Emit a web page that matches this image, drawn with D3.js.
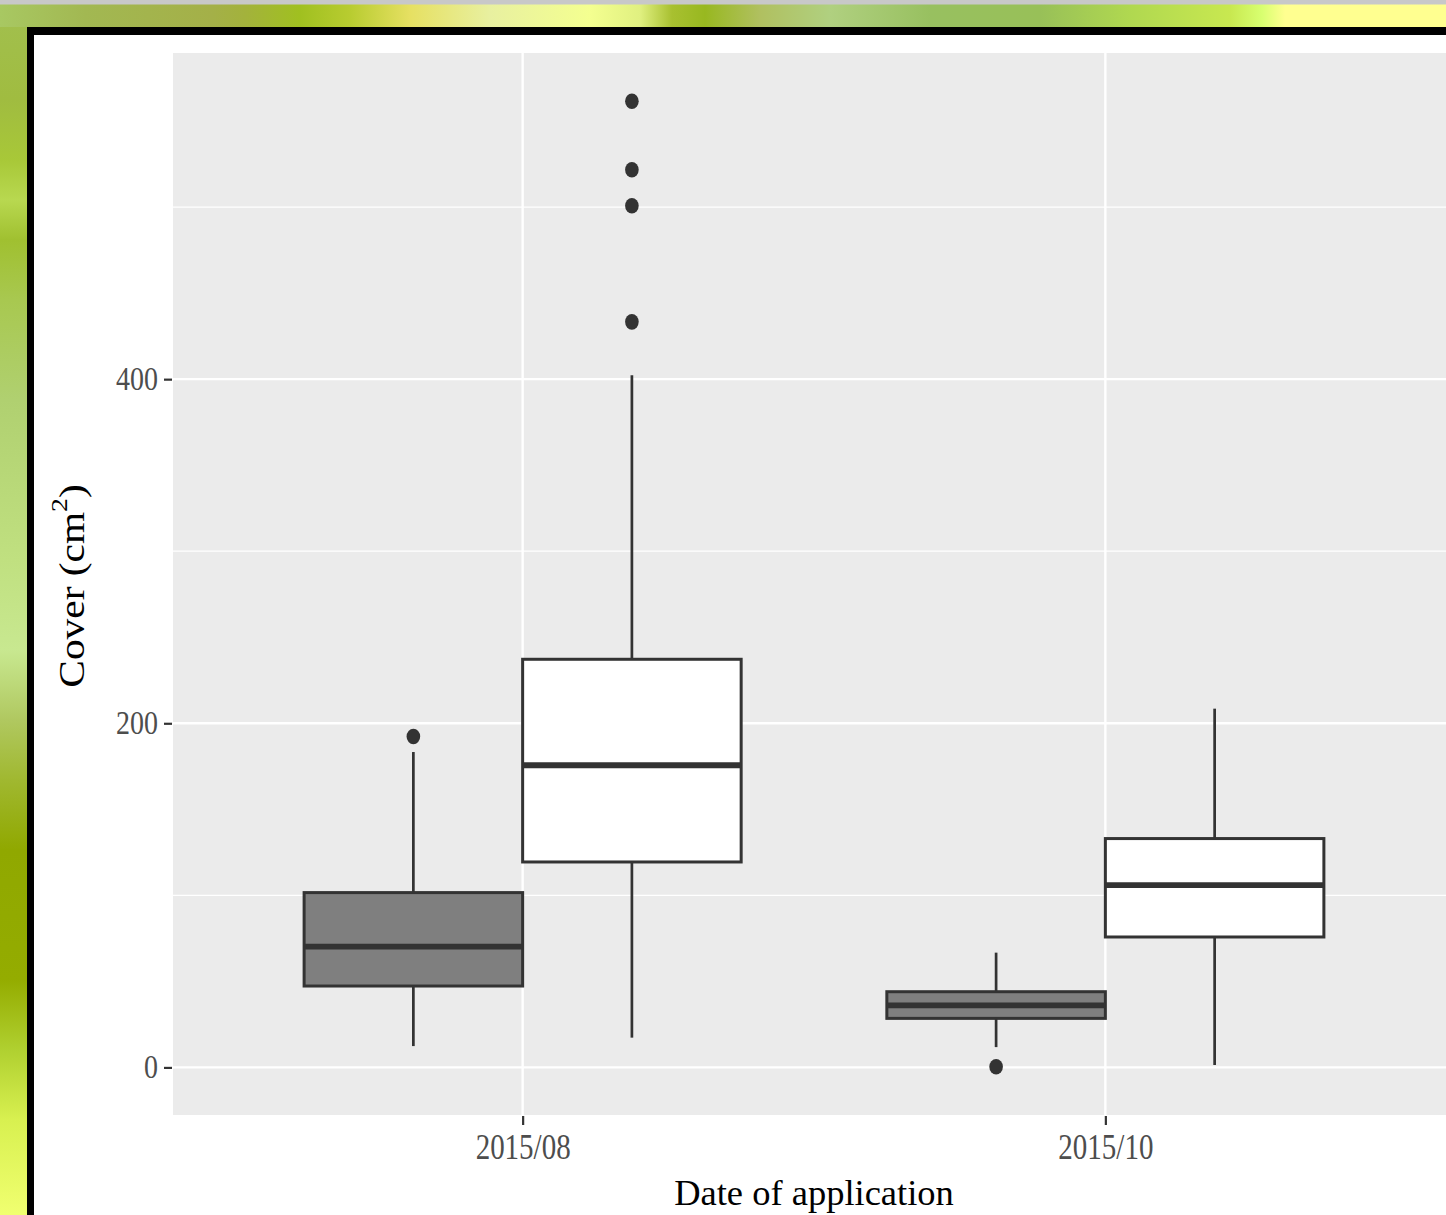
<!DOCTYPE html>
<html>
<head>
<meta charset="utf-8">
<script src="https://cdn.jsdelivr.net/npm/d3@7"></script>
<style>
  html, body { margin: 0; padding: 0; background: #fff; overflow: hidden; }
  svg { display: block; }
</style>
</head>
<body>
<script>
// Application dates on the x axis
const dates = ["2015/08", "2015/10"];
// Two treatment groups, dodged side by side within each date
const groupKeys = ["g1", "g2"];

// Boxplot statistics per date (cm²) – group 1 (grey boxes)
const g1Low  = [12.4, 11.8];
const g1Q1   = [47.3, 28.5];
const g1Med  = [70.2, 36.0];
const g1Q3   = [101.6, 44.0];
const g1High = [183.3, 66.7];
const g1Out  = [[192.3], [0.4]];

// Boxplot statistics per date (cm²) – group 2 (white boxes)
const g2Low  = [17.3, 1.4];
const g2Q1   = [119.4, 75.8];
const g2Med  = [175.6, 106.0];
const g2Q3   = [237.2, 133.0];
const g2High = [402.3, 208.5];
const g2Out  = [[433.3, 500.8, 521.7, 561.5], []];

// Axis ticks
const yMajor = [0, 200, 400];
const yMinor = [100, 300, 500];

const W = 1446, H = 1215;
const panel = { left: 173, right: 1455, top: 53, bottom: 1115 };

const stats = [
  { low: g1Low, q1: g1Q1, med: g1Med, q3: g1Q3, high: g1High, out: g1Out },
  { low: g2Low, q1: g2Q1, med: g2Med, q3: g2Q3, high: g2High, out: g2Out }
];
const boxes = [];
dates.forEach((d, i) => {
  groupKeys.forEach((g, j) => {
    const s = stats[j];
    boxes.push({ date: d, group: g, low: s.low[i], q1: s.q1[i], med: s.med[i],
                 q3: s.q3[i], high: s.high[i], out: s.out[i] });
  });
});

const fills = { g1: "#7f7f7f", g2: "#ffffff" };

// y domain: full data range plus 5% on each side
const allVals = boxes.flatMap(b => [b.low, b.high, ...b.out]);
const [vmin, vmax] = d3.extent(allVals);
const pad = (vmax - vmin) * 0.05;
const y = d3.scaleLinear().domain([vmin - pad, vmax + pad]).range([panel.bottom, panel.top]);

const x = d3.scalePoint().domain(dates).range([panel.left, panel.right]).padding(0.6);
const step = x.step();
const dodge = d3.scaleBand().domain(groupKeys).range([-0.375 * step, 0.375 * step]).padding(0);

const svg = d3.select("body").append("svg").attr("width", W).attr("height", H);
const defs = svg.append("defs");

// Decorative backdrop: green banner across the top and down the left side
const topStops = [
  [0, "#a8c862"], [85, "#a2b852"], [212, "#a4b048"], [245, "#a3b23c"], [300, "#a0c020"],
  [350, "#b8cc30"], [410, "#e6e062"], [490, "#e8f0a0"], [590, "#f4ff90"], [640, "#e0f080"],
  [672, "#a8c030"], [705, "#98b820"], [760, "#b0c060"], [830, "#b0d080"], [930, "#98c060"],
  [1040, "#98c058"], [1130, "#b0d850"], [1230, "#c8e850"], [1262, "#d8ff70"], [1285, "#ffff90"], [1446, "#ffff90"]
];
const leftStops = [
  [0, "#a2c050"], [100, "#a0bc40"], [160, "#a8c838"], [200, "#b8d850"], [240, "#a0c030"],
  [300, "#a8c850"], [400, "#b0d070"], [560, "#c0e080"], [650, "#c8e890"], [720, "#b0c860"],
  [780, "#a0b830"], [850, "#90a800"], [980, "#94ac00"], [1050, "#b0d030"], [1120, "#d8f050"], [1215, "#f0ff70"]
];
const gTop = defs.append("linearGradient").attr("id", "bandTop")
  .attr("gradientUnits", "userSpaceOnUse").attr("x1", 0).attr("x2", W).attr("y1", 0).attr("y2", 0);
topStops.forEach(([o, c]) => gTop.append("stop").attr("offset", o / W).attr("stop-color", c));
const gLeft = defs.append("linearGradient").attr("id", "bandLeft")
  .attr("gradientUnits", "userSpaceOnUse").attr("x1", 0).attr("x2", 0).attr("y1", 0).attr("y2", H);
leftStops.forEach(([o, c]) => gLeft.append("stop").attr("offset", o / H).attr("stop-color", c));

svg.append("rect").attr("x", 0).attr("y", 0).attr("width", W).attr("height", H).attr("fill", "#c8c8c8");
svg.append("rect").attr("x", 0).attr("y", 4.5).attr("width", W).attr("height", 23).attr("fill", "url(#bandTop)");
svg.append("rect").attr("x", 0).attr("y", 27).attr("width", 27).attr("height", H - 27).attr("fill", "url(#bandLeft)");
svg.append("rect").attr("x", 27).attr("y", 27).attr("width", W - 27).attr("height", H - 27).attr("fill", "#000");
svg.append("rect").attr("x", 34).attr("y", 35).attr("width", W - 34).attr("height", H - 35).attr("fill", "#fff");

// Plot panel
svg.append("rect")
  .attr("x", panel.left).attr("y", panel.top)
  .attr("width", panel.right - panel.left).attr("height", panel.bottom - panel.top)
  .attr("fill", "#ebebeb");

const grid = svg.append("g");
grid.selectAll("line.minor").data(yMinor).join("line")
  .attr("x1", panel.left).attr("x2", panel.right)
  .attr("y1", d => y(d)).attr("y2", d => y(d))
  .attr("stroke", "#fff").attr("stroke-width", 1.2);
grid.selectAll("line.major").data(yMajor).join("line")
  .attr("x1", panel.left).attr("x2", panel.right)
  .attr("y1", d => y(d)).attr("y2", d => y(d))
  .attr("stroke", "#fff").attr("stroke-width", 2.4);
grid.selectAll("line.vx").data(dates).join("line")
  .attr("x1", d => x(d)).attr("x2", d => x(d))
  .attr("y1", panel.top).attr("y2", panel.bottom)
  .attr("stroke", "#fff").attr("stroke-width", 2.4);

// Boxplots
const ink = "#333333";
const bx = svg.append("g").selectAll("g").data(boxes).join("g")
  .attr("transform", d => `translate(${x(d.date) + dodge(d.group) + dodge.bandwidth() / 2},0)`);
const hw = dodge.bandwidth() / 2;

bx.append("line").attr("x1", 0).attr("x2", 0)
  .attr("y1", d => y(d.q3)).attr("y2", d => y(d.high))
  .attr("stroke", ink).attr("stroke-width", 2.7);
bx.append("line").attr("x1", 0).attr("x2", 0)
  .attr("y1", d => y(d.q1)).attr("y2", d => y(d.low))
  .attr("stroke", ink).attr("stroke-width", 2.7);
bx.append("rect")
  .attr("x", -hw).attr("width", 2 * hw)
  .attr("y", d => y(d.q3)).attr("height", d => y(d.q1) - y(d.q3))
  .attr("fill", d => fills[d.group]).attr("stroke", ink).attr("stroke-width", 3);
bx.append("line").attr("x1", -hw).attr("x2", hw)
  .attr("y1", d => y(d.med)).attr("y2", d => y(d.med))
  .attr("stroke", ink).attr("stroke-width", 5.8);
bx.selectAll("ellipse").data(d => d.out).join("ellipse")
  .attr("cx", 0).attr("cy", v => y(v)).attr("rx", 6.8).attr("ry", 7.8)
  .attr("fill", ink);

// Axes
const serif = "'Liberation Serif', 'Times New Roman', serif";
const yAxis = svg.append("g").attr("transform", `translate(${panel.left - 1},0)`)
  .call(d3.axisLeft(y).tickValues(yMajor).tickSize(8).tickFormat(d3.format("d")));
yAxis.select(".domain").remove();
yAxis.selectAll(".tick line").attr("stroke", ink).attr("stroke-width", 2.2);
yAxis.selectAll(".tick text")
  .attr("x", 0).attr("dy", null).attr("y", 0)
  .attr("transform", "translate(-14,10) scale(1,1.18)")
  .attr("text-anchor", "end")
  .attr("font-family", serif).attr("font-size", 28).attr("fill", "#4d4d4d");

const xAxis = svg.append("g").attr("transform", `translate(0,${panel.bottom + 1})`)
  .call(d3.axisBottom(x).tickSize(9));
xAxis.select(".domain").remove();
xAxis.selectAll(".tick line").attr("stroke", ink).attr("stroke-width", 2.2);
xAxis.selectAll(".tick text")
  .attr("y", 0).attr("dy", null)
  .attr("transform", "translate(0,43) scale(1,1.2)")
  .attr("text-anchor", "middle")
  .attr("font-family", serif).attr("font-size", 29).attr("fill", "#4d4d4d");

// Axis titles
svg.append("text")
  .attr("x", (panel.left + panel.right) / 2).attr("y", 1205)
  .attr("text-anchor", "middle")
  .attr("font-family", serif).attr("font-size", 36.5).attr("fill", "#000")
  .text("Date of application");

const yt = svg.append("text")
  .attr("transform", `translate(84,${(panel.top + panel.bottom) / 2 + 2}) rotate(-90) scale(1.15,1)`)
  .attr("text-anchor", "middle")
  .attr("font-family", serif).attr("font-size", 36).attr("fill", "#000");
yt.append("tspan").text("Cover (cm");
yt.append("tspan").attr("dy", -17).attr("font-size", 24).text("2");
yt.append("tspan").attr("dy", 17).text(")");
</script>
</body>
</html>
